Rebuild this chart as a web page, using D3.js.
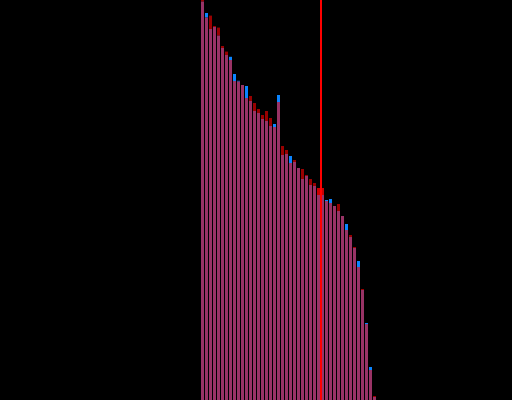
<!DOCTYPE html>
<html>
<head>
<meta charset="utf-8">
<script src="https://cdn.jsdelivr.net/npm/d3@7"></script>
<style>
  html, body { margin: 0; padding: 0; background: #000; }
  svg { display: block; }
</style>
</head>
<body>
<div id="chart"></div>
<script>
// two series per rank, drawn on top of each other
var seriesA = [100, 95.6, 96.1, 93.5, 93.1, 88.5, 87.1, 85, 79.75, 79.6,
  78.75, 75.5, 76, 74.25, 72.75, 71.25, 72.25, 70.5, 68.25, 74.5,
  63.5, 62.5, 59.25, 60, 58, 57.75, 56.25, 55.25, 54.25, 53,
  53, 49.75, 49.25, 48.5, 49, 46, 42.5, 41.25, 38.25, 33.25,
  27.75, 19, 7.5, 1];
var seriesB = [99.6, 96.75, 92.75, 93.25, 91.1, 88, 86.25, 85.8, 81.5, 79.8,
  78.75, 78.5, 74.75, 72.25, 71.75, 70.25, 69.75, 68.5, 69, 76.25,
  61.25, 61.5, 61, 59.5, 58, 55.25, 56, 53.75, 53.5, 51.25,
  51.25, 50, 50.25, 48.5, 47.25, 46, 44, 40.75, 38, 34.75,
  27.5, 19.25, 8.25, 0.75];
var marker = 29.5; // position of the vertical red line, in ranks

var width = 512, height = 400;

var data = seriesA.map(function(a, i) { return {i: i, a: a, b: seriesB[i]}; });

var x = d3.scaleBand()
  .domain(d3.range(data.length))
  .range([200.5, 376.5])
  .paddingInner(0.25)
  .paddingOuter(0.125);

var y = d3.scaleLinear()
  .domain([0, 100])
  .range([height, 0]);

var svg = d3.select("#chart").append("svg")
  .attr("width", width)
  .attr("height", height);

svg.append("rect")
  .attr("width", width)
  .attr("height", height)
  .attr("fill", "#000");

var near = function(d) { return Math.abs(d.i - marker) < 1; };

// top part: the larger of the two values
svg.append("g").attr("class", "tops")
  .selectAll("rect")
  .data(data)
  .join("rect")
    .attr("x", function(d) { return x(d.i); })
    .attr("width", x.bandwidth())
    .attr("y", function(d) { return y(Math.max(d.a, d.b)); })
    .attr("height", function(d) { return y(Math.min(d.a, d.b)) - y(Math.max(d.a, d.b)); })
    .attr("fill", function(d) {
      if (d.b > d.a) return "#0a84ff";
      return near(d) ? "#cc0000" : "#990000";
    });

// shared part: the smaller value
svg.append("g").attr("class", "bars")
  .selectAll("rect")
  .data(data)
  .join("rect")
    .attr("x", function(d) { return x(d.i); })
    .attr("width", x.bandwidth())
    .attr("y", function(d) { return y(Math.min(d.a, d.b)); })
    .attr("height", function(d) { return height - y(Math.min(d.a, d.b)); })
    .attr("fill", "#993366");

var lx = x(Math.floor(marker)) + x.step() * (marker - Math.floor(marker) + 0.5);
svg.append("line")
  .attr("class", "marker")
  .attr("x1", lx).attr("x2", lx)
  .attr("y1", 0).attr("y2", height)
  .attr("stroke", "#ff0000")
  .attr("stroke-width", 2);
</script>
</body>
</html>
